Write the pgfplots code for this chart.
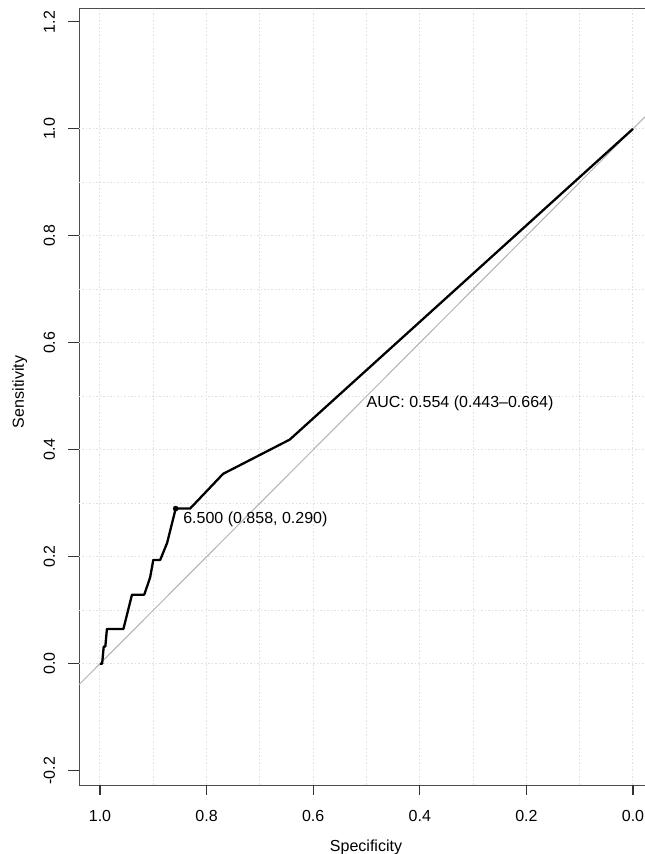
\documentclass[border=0pt]{standalone}
\usepackage{pgfplots}
\pgfplotsset{compat=1.18}
\usepackage{fontspec}
\setmainfont{Liberation Sans}
\begin{document}
\begin{tikzpicture}[font=\fontsize{16bp}{19bp}\selectfont]
\path[use as bounding box] (-79bp,-69bp) rectangle (566bp,785bp);
\begin{axis}[
  at={(0,0)}, anchor=south west,
  scale only axis, width=575bp, height=777bp,
  x dir=reverse, clip=false,
  xmin=-0.0394, xmax=1.0394, ymin=-0.2268, ymax=1.226,
  axis line style={black!70, line width=0.9bp},
  xtick={0,0.2,0.4,0.6,0.8,1.0},
  ytick={-0.2,0,0.2,0.4,0.6,0.8,1.0,1.2},
  tick pos=left, tick align=outside, major tick length=10bp,
  major tick style={draw=black!75, line width=1bp},
  /pgf/number format/.cd, fixed, fixed zerofill, precision=1, assume math mode=true,
  /pgfplots/.cd,
  xticklabel style={anchor=base, yshift=-27bp, inner sep=0pt},
  yticklabel style={rotate=90, anchor=base, inner sep=0pt},
  yticklabel shift=14bp,
]
\pgfplotsinvokeforeach{0,0.1,0.2,0.3,0.4,0.5,0.6,0.7,0.8,0.9,1}{
  \draw[black!12, line width=1bp, dash pattern=on 1.5bp off 2bp] (axis cs:#1,-0.2268) -- (axis cs:#1,1.226);
  \draw[black!12, line width=1bp, dash pattern=on 1.5bp off 2bp] (axis cs:1.0394,#1) -- (axis cs:-0.0394,#1);
}
\pgfplotsinvokeforeach{0,0.2,0.4,0.6,0.8,1.0}{
  \draw[black!80, line width=1.1bp] (axis cs:#1,-0.2268) -- (axis cs:#1,-0.2455);
}
\pgfplotsinvokeforeach{-0.2,0,0.2,0.4,0.6,0.8,1.0,1.2}{
  \draw[black!80, line width=1.1bp] (axis cs:1.0394,#1) -- (axis cs:1.0600,#1);
}
\addplot[color=black!30, line width=1bp] coordinates {(1.0394,-0.0394) (-0.0394,1.0394)};
\addplot[black, line width=2.3bp, line join=round] coordinates {
(1.000,0.000) (0.996,0.000) (0.993,0.032) (0.990,0.032) (0.987,0.065)
(0.956,0.065) (0.940,0.129) (0.917,0.129) (0.906,0.161) (0.900,0.194)
(0.887,0.194) (0.874,0.226) (0.858,0.290) (0.831,0.290) (0.769,0.355)
(0.644,0.419) (0.000,1.000)};
\addplot[only marks, mark=*, mark size=2.6bp, black] coordinates {(0.858,0.290)};
\node[anchor=base west, inner sep=0pt] at (axis cs:0.844,0.262) {6.500 (0.858, 0.290)};
\node[anchor=base west, inner sep=0pt] at (axis cs:0.5,0.479) {AUC: 0.554 (0.443\textendash0.664)};
\end{axis}
\node[anchor=base, inner sep=0pt] at (287bp,-66bp) {Specificity};
\node[anchor=base, rotate=90, inner sep=0pt] at (-55bp,393bp) {Sensitivity};
\end{tikzpicture}
\end{document}
